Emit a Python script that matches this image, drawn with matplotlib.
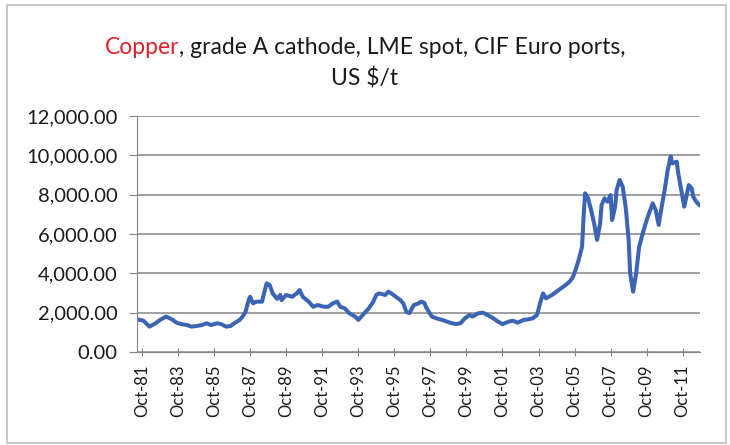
import matplotlib
matplotlib.use("Agg")
import matplotlib.pyplot as plt
from matplotlib.patches import Rectangle

plt.rcParams['font.family'] = ['Lato', 'DejaVu Sans']

# months counted from Oct-81, price in US $/t
months = [-3, 1, 5, 9, 12, 16, 20, 23, 26, 30, 33, 36, 40, 43, 46, 50, 53, 56, 59,
          62, 65, 67, 69, 71, 72, 74, 76, 80, 81, 83, 85, 87, 90, 92, 93, 96, 100,
          103, 105, 107, 111, 114, 117, 121, 124, 127, 130, 132, 135, 138, 142, 144,
          147, 151, 154, 156, 158, 162, 164, 166, 169, 172, 174, 176, 178, 181, 184,
          186, 188, 189, 193, 196, 200, 205, 209, 212, 215, 218, 220, 224, 227, 230,
          234, 237, 240, 244, 247, 250, 254, 257, 260, 263, 265, 267, 269, 273, 276,
          279, 282, 285, 287, 289, 291, 293, 294, 295, 297, 299, 301, 303, 305, 306,
          308, 310, 312, 313, 315, 316, 318, 320, 322, 324, 325, 327, 329, 331, 334,
          336, 338, 340, 342, 344, 346, 348, 350, 352, 353, 356, 357, 359, 361, 362,
          364, 366, 367, 369, 371]
prices = [1660, 1590, 1290, 1460, 1630, 1800, 1660, 1490, 1420, 1370, 1290, 1320,
          1370, 1460, 1370, 1460, 1410, 1290, 1320, 1490, 1630, 1800, 2050, 2640,
          2810, 2470, 2560, 2560, 2900, 3490, 3410, 2980, 2700, 2900, 2640, 2900,
          2810, 2980, 3150, 2810, 2560, 2300, 2390, 2300, 2300, 2470, 2560, 2300,
          2220, 1970, 1800, 1630, 1880, 2220, 2560, 2900, 2980, 2900, 3070, 2980,
          2810, 2640, 2470, 2050, 1970, 2390, 2470, 2560, 2500, 2300, 1800, 1710,
          1630, 1490, 1420, 1460, 1710, 1880, 1800, 1970, 2000, 1880, 1710, 1540,
          1420, 1540, 1590, 1490, 1630, 1660, 1710, 1880, 2470, 2980, 2730, 2900,
          3070, 3240, 3400, 3600, 3830, 4250, 4760, 5360, 6880, 8070, 7820, 7220,
          6540, 5700, 6540, 7480, 7820, 7640, 7980, 6710, 7390, 8240, 8750, 8410,
          7390, 5700, 4000, 3070, 4000, 5360, 6200, 6710, 7130, 7560, 7220, 6460,
          7390, 8240, 9250, 9950, 9590, 9680, 9090, 8240, 7390, 7730, 8490, 8320,
          7900, 7640, 7480]

tick_months = list(range(0, 361, 24))
tick_labels = ['Oct-81', 'Oct-83', 'Oct-85', 'Oct-87', 'Oct-89', 'Oct-91', 'Oct-93',
               'Oct-95', 'Oct-97', 'Oct-99', 'Oct-01', 'Oct-03', 'Oct-05', 'Oct-07',
               'Oct-09', 'Oct-11']
y_ticks = [0, 2000, 4000, 6000, 8000, 10000, 12000]

fig = plt.figure(figsize=(7.3, 4.45), dpi=100)
fig.patches.append(Rectangle((7 / 730, 2 / 445), 719 / 730, 438 / 445,
                             transform=fig.transFigure, fill=False,
                             edgecolor='#bdbdbd', linewidth=1.2))

ax = fig.add_axes([137 / 730, 1 - 352 / 445, 563 / 730, 236 / 445])
ax.plot(months, prices, color='#3c64b4', linewidth=2.9, solid_joinstyle='round')

ax.set_xlim(-3.3, 371.5)
ax.set_ylim(0, 12000)
ax.set_yticks(y_ticks)
ax.set_yticklabels([f"{v:,.2f}" for v in y_ticks], fontsize=14.5, color='#1a1a1a')
ax.set_xticks(tick_months)
ax.set_xticklabels(tick_labels, rotation=90, fontsize=12, color='#1a1a1a')

ax.grid(axis='y', color='#858585', linewidth=1.1)
ax.set_axisbelow(True)
for side in ['top', 'right']:
    ax.spines[side].set_visible(False)
ax.spines['left'].set_color('#858585')
ax.spines['bottom'].set_color('#858585')
ax.tick_params(axis='y', length=6, color='#858585', pad=8)
ax.tick_params(axis='x', direction='inout', length=6, color='#858585', pad=6)

# title with "Copper" in red
renderer = fig.canvas.get_renderer()
title_size = 16.5
t1 = fig.text(0, 1 - 48 / 445, 'Copper', color='#e0202a', fontsize=title_size,
              va='center')
t2 = fig.text(0, 1 - 48 / 445, ', grade A cathode, LME spot, CIF Euro ports,',
              color='#1a1a1a', fontsize=title_size, va='center')
w1 = t1.get_window_extent(renderer).width
w2 = t2.get_window_extent(renderer).width
x0 = (365 - (w1 + w2) / 2) / 730
t1.set_x(x0)
t2.set_x(x0 + w1 / 730)
fig.text(365 / 730, 1 - 79 / 445, 'US $/t', color='#1a1a1a', fontsize=title_size,
         ha='center', va='center')

fig.savefig('out.png', dpi=100)
